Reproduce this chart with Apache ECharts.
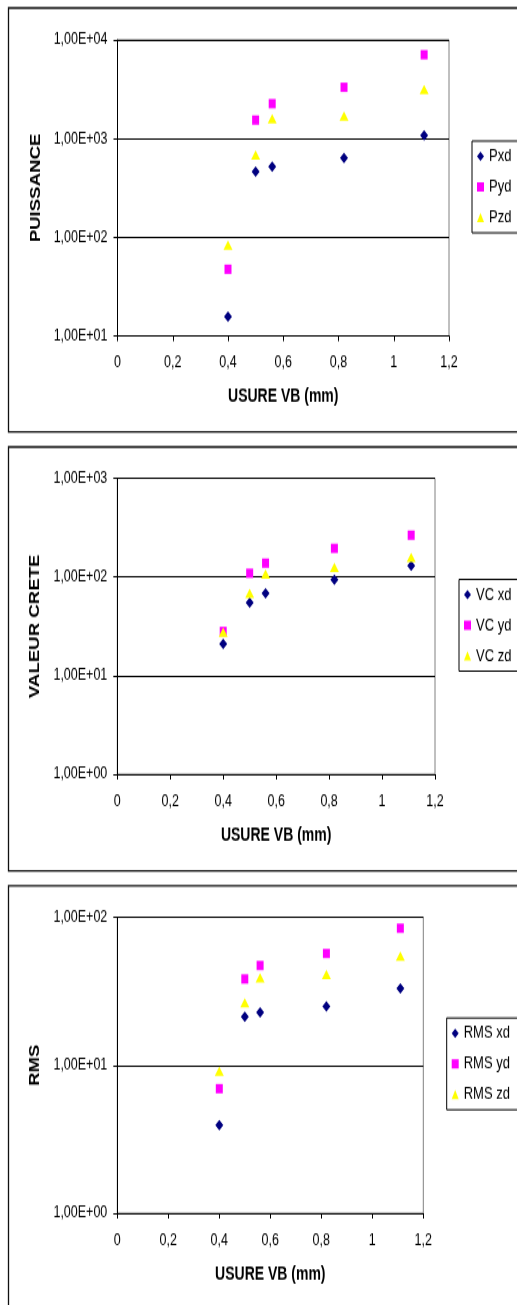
<!DOCTYPE html>
<html>
<head>
<meta charset="utf-8">
<script src="https://cdn.jsdelivr.net/npm/echarts@6/dist/echarts.min.js"></script>
<style>
  html, body { margin: 0; padding: 0; background: #fff; }
  #wrap { width: 517px; height: 1305px; overflow: hidden; }
  /* the original picture is stretched vertically, so the chart is drawn flat then scaled */
  #main { width: 517px; height: 981px; transform: scaleY(1.3303); transform-origin: 0 0; }
</style>
</head>
<body>
<div id="wrap"><div id="main"></div></div>
<script>
// usure VB (mm)
var usureVB = [0.4, 0.5, 0.56, 0.82, 1.11];
var xTicks = ['0', '0,2', '0,4', '0,6', '0,8', '1', '1,2'];

// puissance
var pxd = [15.7, 464, 518, 637, 1080];
var pyd = [47.4, 1540, 2260, 3310, 7080];
var pzd = [83, 684, 1590, 1690, 3150];
var yTicks1 = ['1,00E+01', '1,00E+02', '1,00E+03', '1,00E+04'];

// valeur crete
var vcxd = [20.9, 55, 68, 94, 130];
var vcyd = [28, 109, 138, 195, 265];
var vczd = [27.5, 68, 107, 125, 158];
var yTicks2 = ['1,00E+00', '1,00E+01', '1,00E+02', '1,00E+03'];

// rms
var rmsxd = [3.95, 21.3, 22.8, 25, 33];
var rmsyd = [6.95, 38.3, 47.2, 56.9, 84.3];
var rmszd = [9.1, 26.4, 38.9, 41, 54.7];
var yTicks3 = ['1,00E+00', '1,00E+01', '1,00E+02'];

var FONT = '"Liberation Sans", Arial, sans-serif';

function pairs(ys) {
  var out = [];
  for (var i = 0; i < usureVB.length; i++) out.push([usureVB[i], ys[i]]);
  return out;
}

function xAxisOf(gi) {
  return {
    type: 'value', gridIndex: gi, min: 0, max: 1.2, interval: 0.2,
    name: 'USURE VB (mm)', nameLocation: 'middle', nameGap: 39,
    nameTextStyle: { fontFamily: FONT, fontSize: 14, fontWeight: 'bold', color: '#000' },
    axisLine: { lineStyle: { color: '#000', width: 1 } },
    axisTick: { show: true, length: 4, lineStyle: { color: '#000' } },
    axisLabel: {
      margin: 14, fontFamily: FONT, fontSize: 12.5, color: '#000',
      formatter: function (v) { return xTicks[Math.round(v / 0.2)]; }
    },
    splitLine: { show: false }
  };
}

function yAxisOf(gi, name, min, max, ticks) {
  var e0 = Math.round(Math.log10(min));
  return {
    type: 'log', logBase: 10, gridIndex: gi, min: min, max: max,
    name: name, nameLocation: 'middle', nameGap: 73,
    nameTextStyle: { fontFamily: FONT, fontSize: 14, fontWeight: 'bold', color: '#000' },
    axisLine: { lineStyle: { color: '#000', width: 1 } },
    axisTick: { show: true, length: 4, lineStyle: { color: '#000' } },
    axisLabel: {
      margin: 10, fontFamily: FONT, fontSize: 12.5, color: '#000',
      formatter: function (v) {
        var t = ticks[Math.round(Math.log10(v)) - e0];
        return t || '';
      }
    },
    splitLine: { show: true, lineStyle: { color: '#000', width: 1 } }
  };
}

function seriesOf(gi, names, data) {
  var marks = [
    { symbol: 'diamond', size: [8, 8], color: '#000080' },
    { symbol: 'rect', size: [7, 7], color: '#FF00FF' },
    { symbol: 'triangle', size: [9, 7], color: '#FFFF00' }
  ];
  return names.map(function (n, i) {
    return {
      type: 'scatter', name: n, xAxisIndex: gi, yAxisIndex: gi,
      symbol: marks[i].symbol, symbolSize: marks[i].size,
      itemStyle: { color: marks[i].color, opacity: 1 },
      data: pairs(data[i])
    };
  });
}

function legendOf(names, left, top) {
  return {
    orient: 'vertical', left: left, top: top,
    data: [
      { name: names[0], icon: 'diamond' },
      { name: names[1], icon: 'rect' },
      { name: names[2], icon: 'triangle' }
    ],
    itemWidth: 7, itemHeight: 7, itemGap: 10,
    padding: [5, 30, 5, 5],
    borderColor: '#000', borderWidth: 1,
    textStyle: { fontFamily: FONT, fontSize: 13, color: '#000' },
    selectedMode: false
  };
}

function box(y, h) {
  return {
    type: 'rect', silent: true, z: -1,
    shape: { x: 8.5, y: y, width: 520, height: h },
    style: { fill: 'none', stroke: '#111', lineWidth: 1.3 }
  };
}

var names1 = ['Pxd', 'Pyd', 'Pzd'];
var names2 = ['VC xd', 'VC yd', 'VC zd'];
var names3 = ['RMS xd', 'RMS yd', 'RMS zd'];

var option = {
  backgroundColor: '#fff',
  animation: false,
  graphic: [box(6, 318.7), box(336, 318.7), box(665.8, 330)],
  grid: [
    { left: 117.5, top: 30, width: 331.5, height: 222.5, show: true, borderColor: '#808080', borderWidth: 1 },
    { left: 117.3, top: 359.5, width: 317.7, height: 222.5, show: true, borderColor: '#808080', borderWidth: 1 },
    { left: 117.3, top: 689.5, width: 306, height: 222.5, show: true, borderColor: '#808080', borderWidth: 1 }
  ],
  xAxis: [xAxisOf(0), xAxisOf(1), xAxisOf(2)],
  yAxis: [
    yAxisOf(0, 'PUISSANCE', 10, 10000, yTicks1),
    yAxisOf(1, 'VALEUR CRETE', 1, 1000, yTicks2),
    yAxisOf(2, 'RMS', 1, 100, yTicks3)
  ],
  legend: [
    legendOf(names1, 472, 106),
    legendOf(names2, 459, 435.5),
    legendOf(names3, 446.7, 765.2)
  ],
  series: []
    .concat(seriesOf(0, names1, [pxd, pyd, pzd]))
    .concat(seriesOf(1, names2, [vcxd, vcyd, vczd]))
    .concat(seriesOf(2, names3, [rmsxd, rmsyd, rmszd]))
};

var myChart = echarts.init(document.getElementById('main'));
myChart.setOption(option);
</script>
</body>
</html>
